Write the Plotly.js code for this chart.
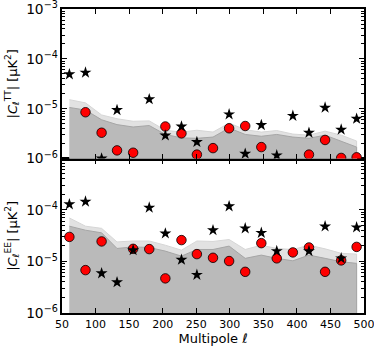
<!DOCTYPE html>
<html>
<head>
<meta charset="utf-8">
<script src="https://cdn.plot.ly/plotly-3.0.1.min.js"></script>
<style>
  html, body { margin: 0; padding: 0; background: #fff; }
  #chart { width: 374px; height: 352px; }
</style>
</head>
<body>
<div id="chart"></div>
<script>
// multipole bin centres
const ell = [61, 85, 109, 132, 156, 180, 204, 228, 251, 275, 299, 323, 347, 370, 394, 418, 442, 466, 489];

// TT panel
const ttStar = [4.9e-5, 5.3e-5, 1.0e-6, 9.4e-6, null, 1.55e-5, 2.9e-6, 4.4e-6, 2.15e-6, null,
                7.7e-6, 1.25e-6, 4.7e-6, 1.16e-6, 7.2e-6, 3.3e-6, 1.05e-5, 3.8e-6, 6.3e-6];
const ttCirc = [null, 8.5e-6, 3.3e-6, 1.46e-6, 1.31e-6, null, 4.4e-6, 3.2e-6, 1.2e-6, 1.62e-6,
                4.05e-6, 4.5e-6, 1.7e-6, null, null, 1.2e-6, 2.36e-6, 1.03e-6, 1.06e-6];
const ttDark = [1.06e-5, 9.4e-6, 6.0e-6, 4.8e-6, 4.3e-6, 4.6e-6, 3.05e-6, 2.6e-6, 2.55e-6, 2.7e-6,
                4.1e-6, 3.05e-6, 2.8e-6, 3.05e-6, 2.7e-6, 2.55e-6, 2.95e-6, 2.25e-6, 1.7e-6];
const ttLight = [1.52e-5, 1.31e-5, 7.5e-6, 6.3e-6, 5.6e-6, 5.7e-6, 3.7e-6, 3.4e-6, 3.7e-6, 3.4e-6,
                 5.15e-6, 3.8e-6, 3.4e-6, 3.65e-6, 3.1e-6, 2.95e-6, 3.55e-6, 2.95e-6, 2.25e-6];

// EE panel
const eeStar = [1.29e-4, 1.45e-4, 5.9e-6, 3.95e-6, 1.66e-5, 1.11e-4, 3.5e-5, 1.08e-5, 5.5e-6, 4.05e-5,
                1.18e-4, 4.4e-5, 3.6e-5, 1.59e-5, null, 1.59e-5, 4.8e-5, 1.15e-5, 4.6e-5];
const eeCirc = [3.0e-5, 6.8e-6, 2.45e-5, null, 1.76e-5, 1.74e-5, 4.7e-6, 2.6e-5, 1.39e-5, 1.18e-5,
                1.02e-5, 6.3e-6, 2.27e-5, 1.15e-5, 1.5e-5, 1.87e-5, 6.3e-6, 1.05e-5, 1.92e-5];
const eeDark = [4.85e-5, 4.05e-5, 3.6e-5, 1.79e-5, 1.92e-5, 1.87e-5, 1.59e-5, 1.27e-5, 1.71e-5, 1.71e-5,
                1.99e-5, 1.15e-5, 1.33e-5, 1.15e-5, 1.03e-5, 1.33e-5, 1.15e-5, 9.9e-6, 9.2e-6];
const eeLight = [7.0e-5, 4.85e-5, 4.4e-5, 2.4e-5, 2.5e-5, 2.5e-5, 2.07e-5, 1.66e-5, 2.5e-5, 2.45e-5,
                 2.67e-5, 1.71e-5, 2.07e-5, 1.79e-5, 1.71e-5, 2.07e-5, 1.76e-5, 1.44e-5, 1.39e-5];

const xTicks = [50, 100, 150, 200, 250, 300, 350, 400, 450, 500];

const FONT = "DejaVu Sans, Liberation Sans, sans-serif";
const floorVal = 1e-9;

// closed polygon from the band edge down below the axis
function band(vals, xa, ya, fill, edge) {
  return {
    x: ell.concat([ell[ell.length - 1], ell[0]]),
    y: vals.concat([floorVal, floorVal]),
    xaxis: xa, yaxis: ya,
    mode: "lines", fill: "toself", fillcolor: fill,
    line: {color: edge, width: 1},
    hoverinfo: "skip", showlegend: false
  };
}

function circles(vals, xa, ya) {
  return {
    x: ell, y: vals, xaxis: xa, yaxis: ya, mode: "markers",
    marker: {symbol: "circle", size: 9.5, color: "#ff0000", line: {color: "#000", width: 0.8}},
    showlegend: false
  };
}

function stars(vals, xa, ya) {
  return {
    x: ell, y: vals, xaxis: xa, yaxis: ya, mode: "markers",
    marker: {symbol: "star", size: 9, color: "#000", line: {width: 0}},
    showlegend: false
  };
}

const data = [
  band(ttLight, "x2", "y2", "#e2e2e2", "#d6d6d6"),
  band(ttDark, "x2", "y2", "#bababa", "#a6a6a6"),
  circles(ttCirc, "x2", "y2"),
  stars(ttStar, "x2", "y2"),
  band(eeLight, "x", "y", "#e2e2e2", "#d6d6d6"),
  band(eeDark, "x", "y", "#bababa", "#a6a6a6"),
  circles(eeCirc, "x", "y"),
  stars(eeStar, "x", "y")
];

const axisCommon = {
  showline: true, linecolor: "#000", linewidth: 2, mirror: "allticks",
  ticks: "inside", ticklen: 5, tickwidth: 1, tickcolor: "#000",
  showgrid: false, zeroline: false, ticklabeloverflow: "allow",
  tickfont: {family: FONT, size: 11, color: "#000"}
};

const layout = {
  width: 374, height: 352,
  margin: {l: 62, r: 10, t: 9, b: 39},
  paper_bgcolor: "#fff", plot_bgcolor: "#fff",
  font: {family: FONT, color: "#000"},
  xaxis: Object.assign({}, axisCommon, {
    domain: [0, 1], anchor: "y", range: [50, 500],
    tickmode: "array", tickvals: xTicks,
    title: {text: "Multipole <i>ℓ</i>", font: {family: FONT, size: 13}, standoff: 4}
  }),
  xaxis2: Object.assign({}, axisCommon, {
    domain: [0, 1], anchor: "y2", range: [50, 500], matches: "x",
    tickmode: "array", tickvals: xTicks, showticklabels: false
  }),
  yaxis: Object.assign({}, axisCommon, {
    domain: [0, 0.508], anchor: "x", type: "log", range: [-6, -3.002],
    dtick: 1, exponentformat: "power",
    minor: {ticks: "inside", ticklen: 3, tickcolor: "#000", showgrid: false},
    title: {text: "|<i>C</i><sub>ℓ</sub><sup>EE</sup>| [μK<sup>2</sup>]", font: {family: FONT, size: 13}, standoff: 6}
  }),
  yaxis2: Object.assign({}, axisCommon, {
    domain: [0.508, 1], anchor: "x2", type: "log", range: [-6, -2.9995],
    dtick: 1, exponentformat: "power",
    minor: {ticks: "inside", ticklen: 3, tickcolor: "#000", showgrid: false},
    title: {text: "|<i>C</i><sub>ℓ</sub><sup>TT</sup>| [μK<sup>2</sup>]", font: {family: FONT, size: 13}, standoff: 6}
  })
};

Plotly.newPlot("chart", data, layout, {displayModeBar: false, staticPlot: true});
</script>
</body>
</html>
